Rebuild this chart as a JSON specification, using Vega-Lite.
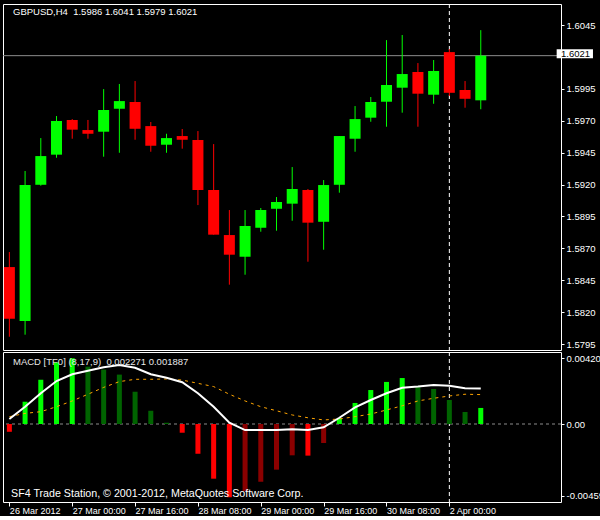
{
  "$schema": "https://vega.github.io/schema/vega-lite/v6.json",
  "background": "#000000",
  "padding": {"left": 2, "top": 3, "right": 0, "bottom": 0},
  "spacing": 0,
  "config": {
    "view": {"stroke": "#FFFFFF", "strokeWidth": 1, "fill": "#000000"},
    "axis": {"grid": false, "domain": false, "labelColor": "#FFFFFF", "tickColor": "#FFFFFF", "labelFont": "Liberation Sans", "labelFontSize": 9.5}
  },
  "datasets": {
    "ohlc": [
      {"i": 0, "o": 1.58553, "h": 1.58671, "l": 1.58007, "c": 1.58148},
      {"i": 1, "o": 1.58130, "h": 1.59306, "l": 1.58023, "c": 1.59196},
      {"i": 2, "o": 1.59198, "h": 1.59564, "l": 1.59191, "c": 1.59423},
      {"i": 3, "o": 1.59434, "h": 1.59737, "l": 1.59410, "c": 1.59698},
      {"i": 4, "o": 1.59706, "h": 1.59713, "l": 1.59559, "c": 1.59630},
      {"i": 5, "o": 1.59627, "h": 1.59706, "l": 1.59559, "c": 1.59598},
      {"i": 6, "o": 1.59614, "h": 1.59948, "l": 1.59418, "c": 1.59784},
      {"i": 7, "o": 1.59794, "h": 1.59988, "l": 1.59449, "c": 1.59854},
      {"i": 8, "o": 1.59847, "h": 1.60011, "l": 1.59551, "c": 1.59637},
      {"i": 9, "o": 1.59658, "h": 1.59690, "l": 1.59457, "c": 1.59504},
      {"i": 10, "o": 1.59512, "h": 1.59598, "l": 1.59449, "c": 1.59564},
      {"i": 11, "o": 1.59580, "h": 1.59635, "l": 1.59481, "c": 1.59551},
      {"i": 12, "o": 1.59549, "h": 1.59619, "l": 1.59039, "c": 1.59157},
      {"i": 13, "o": 1.59157, "h": 1.59517, "l": 1.58807, "c": 1.58807},
      {"i": 14, "o": 1.58804, "h": 1.59000, "l": 1.58415, "c": 1.58650},
      {"i": 15, "o": 1.58634, "h": 1.59000, "l": 1.58493, "c": 1.58875},
      {"i": 16, "o": 1.58861, "h": 1.59016, "l": 1.58830, "c": 1.59000},
      {"i": 17, "o": 1.59010, "h": 1.59102, "l": 1.58838, "c": 1.59063},
      {"i": 18, "o": 1.59050, "h": 1.59337, "l": 1.58916, "c": 1.59165},
      {"i": 19, "o": 1.59157, "h": 1.59165, "l": 1.58595, "c": 1.58901},
      {"i": 20, "o": 1.58908, "h": 1.59235, "l": 1.58689, "c": 1.59196},
      {"i": 21, "o": 1.59198, "h": 1.59580, "l": 1.59136, "c": 1.59580},
      {"i": 22, "o": 1.59559, "h": 1.59815, "l": 1.59457, "c": 1.59713},
      {"i": 23, "o": 1.59724, "h": 1.59886, "l": 1.59692, "c": 1.59847},
      {"i": 24, "o": 1.59849, "h": 1.60332, "l": 1.59653, "c": 1.59980},
      {"i": 25, "o": 1.59959, "h": 1.60372, "l": 1.59763, "c": 1.60066},
      {"i": 26, "o": 1.60082, "h": 1.60152, "l": 1.59653, "c": 1.59912},
      {"i": 27, "o": 1.59904, "h": 1.60176, "l": 1.59833, "c": 1.60090},
      {"i": 28, "o": 1.60238, "h": 1.60262, "l": 1.59894, "c": 1.59919},
      {"i": 29, "o": 1.59941, "h": 1.60011, "l": 1.59802, "c": 1.59872},
      {"i": 30, "o": 1.59860, "h": 1.60410, "l": 1.59790, "c": 1.60210}
    ],
    "macd": [
      {"i": 0, "hist": -0.0005, "macd": 0.00032, "signal": 0.00047, "state": "neg-down"},
      {"i": 1, "hist": 0.00143, "macd": 0.00111, "signal": 0.00068, "state": "pos-up"},
      {"i": 2, "hist": 0.00284, "macd": 0.00197, "signal": 0.00079, "state": "pos-up"},
      {"i": 3, "hist": 0.00396, "macd": 0.00276, "signal": 0.00111, "state": "pos-up"},
      {"i": 4, "hist": 0.00422, "macd": 0.00319, "signal": 0.00148, "state": "pos-up"},
      {"i": 5, "hist": 0.00368, "macd": 0.00342, "signal": 0.00191, "state": "pos-down"},
      {"i": 6, "hist": 0.00349, "macd": 0.00364, "signal": 0.00235, "state": "pos-down"},
      {"i": 7, "hist": 0.00317, "macd": 0.00379, "signal": 0.00272, "state": "pos-down"},
      {"i": 8, "hist": 0.00207, "macd": 0.00361, "signal": 0.00287, "state": "pos-down"},
      {"i": 9, "hist": 0.00085, "macd": 0.00319, "signal": 0.00287, "state": "pos-down"},
      {"i": 10, "hist": 0.00008, "macd": 0.00297, "signal": 0.00289, "state": "pos-down"},
      {"i": 11, "hist": -0.00056, "macd": 0.00268, "signal": 0.00282, "state": "neg-down"},
      {"i": 12, "hist": -0.00191, "macd": 0.00197, "signal": 0.00261, "state": "neg-down"},
      {"i": 13, "hist": -0.00351, "macd": 0.00111, "signal": 0.0024, "state": "neg-down"},
      {"i": 14, "hist": -0.0047, "macd": 0.00008, "signal": 0.00191, "state": "neg-down"},
      {"i": 15, "hist": -0.0043, "macd": -0.00039, "signal": 0.00148, "state": "neg-up"},
      {"i": 16, "hist": -0.0037, "macd": -0.00039, "signal": 0.00111, "state": "neg-up"},
      {"i": 17, "hist": -0.00293, "macd": -0.00039, "signal": 0.00085, "state": "neg-up"},
      {"i": 18, "hist": -0.00201, "macd": -0.00034, "signal": 0.00058, "state": "neg-up"},
      {"i": 19, "hist": -0.00203, "macd": -0.00039, "signal": 0.0004, "state": "neg-down"},
      {"i": 20, "hist": -0.00122, "macd": -0.00021, "signal": 0.00026, "state": "neg-up"},
      {"i": 21, "hist": 0.00037, "macd": 0.0004, "signal": 0.00032, "state": "pos-up"},
      {"i": 22, "hist": 0.00135, "macd": 0.00107, "signal": 0.00047, "state": "pos-up"},
      {"i": 23, "hist": 0.00218, "macd": 0.00154, "signal": 0.00064, "state": "pos-up"},
      {"i": 24, "hist": 0.0027, "macd": 0.00197, "signal": 0.0009, "state": "pos-up"},
      {"i": 25, "hist": 0.00295, "macd": 0.00233, "signal": 0.00117, "state": "pos-up"},
      {"i": 26, "hist": 0.00237, "macd": 0.0024, "signal": 0.00148, "state": "pos-down"},
      {"i": 27, "hist": 0.00225, "macd": 0.0025, "signal": 0.00165, "state": "pos-down"},
      {"i": 28, "hist": 0.00154, "macd": 0.00246, "signal": 0.0018, "state": "pos-down"},
      {"i": 29, "hist": 0.00077, "macd": 0.00229, "signal": 0.00191, "state": "pos-down"},
      {"i": 30, "hist": 0.00103, "macd": 0.002271, "signal": 0.001887, "state": "pos-up"}
    ]
  },
  "vconcat": [
    {
      "width": 558,
      "height": 346,
      "layer": [
        {
          "data": {"values": [{"i": 28}]},
          "mark": {"type": "rule", "color": "#FFFFFF", "strokeDash": [4, 3], "strokeWidth": 1},
          "encoding": {
            "x": {"field": "i", "type": "quantitative", "scale": {"domain": [-0.0875, 34.7875], "nice": false, "zero": false}, "axis": null}
          }
        },
        {
          "data": {"values": [{"last": 1.6021}]},
          "mark": {"type": "rule", "color": "#8C8C8C", "strokeWidth": 1},
          "encoding": {
            "y": {"field": "last", "type": "quantitative", "scale": {"domain": [1.57903, 1.60615], "nice": false, "zero": false},
              "axis": {"orient": "right", "title": null, "values": [1.6045, 1.5995, 1.597, 1.5945, 1.592, 1.5895, 1.587, 1.5845, 1.582, 1.5795], "format": ".4f", "tickSize": 3, "labelPadding": 2}}
          }
        },
        {
          "data": {"name": "ohlc"},
          "mark": {"type": "rule", "strokeWidth": 1, "clip": true},
          "encoding": {
            "x": {"field": "i", "type": "quantitative", "scale": {"domain": [-0.0875, 34.7875], "nice": false, "zero": false}, "axis": null},
            "y": {"field": "l", "type": "quantitative", "scale": {"domain": [1.57903, 1.60615], "nice": false, "zero": false},
              "axis": {"orient": "right", "title": null, "values": [1.6045, 1.5995, 1.597, 1.5945, 1.592, 1.5895, 1.587, 1.5845, 1.582, 1.5795], "format": ".4f", "tickSize": 3, "labelPadding": 2}},
            "y2": {"field": "h"},
            "color": {"condition": {"test": "datum.c >= datum.o", "value": "#00FF00"}, "value": "#FF0000"}
          }
        },
        {
          "data": {"name": "ohlc"},
          "mark": {"type": "bar", "size": 11, "clip": true},
          "encoding": {
            "x": {"field": "i", "type": "quantitative", "scale": {"domain": [-0.0875, 34.7875], "nice": false, "zero": false}, "axis": null},
            "y": {"field": "o", "type": "quantitative", "scale": {"domain": [1.57903, 1.60615], "nice": false, "zero": false},
              "axis": {"orient": "right", "title": null, "values": [1.6045, 1.5995, 1.597, 1.5945, 1.592, 1.5895, 1.587, 1.5845, 1.582, 1.5795], "format": ".4f", "tickSize": 3, "labelPadding": 2}},
            "y2": {"field": "c"},
            "color": {"condition": {"test": "datum.c >= datum.o", "value": "#00FF00"}, "value": "#FF0000"}
          }
        },
        {
          "data": {"values": [{"top": 1.6026, "bottom": 1.6019}]},
          "mark": {"type": "rect", "color": "#FFFFFF"},
          "encoding": {
            "x": {"datum": 34.83, "type": "quantitative", "scale": {"domain": [-0.0875, 34.7875], "nice": false, "zero": false}, "axis": null},
            "x2": {"datum": 37.14},
            "y": {"field": "top", "type": "quantitative", "scale": {"domain": [1.57903, 1.60615], "nice": false, "zero": false},
              "axis": {"orient": "right", "title": null, "values": [1.6045, 1.5995, 1.597, 1.5945, 1.592, 1.5895, 1.587, 1.5845, 1.582, 1.5795], "format": ".4f", "tickSize": 3, "labelPadding": 2}},
            "y2": {"field": "bottom"}
          }
        },
        {
          "data": {"values": [{"p": 1.60225, "t": "1.6021"}]},
          "mark": {"type": "text", "color": "#000000", "font": "Liberation Sans", "fontSize": 9.5, "align": "left", "baseline": "middle", "dx": 5},
          "encoding": {
            "x": {"datum": 34.7875, "type": "quantitative", "scale": {"domain": [-0.0875, 34.7875], "nice": false, "zero": false}, "axis": null},
            "y": {"field": "p", "type": "quantitative", "scale": {"domain": [1.57903, 1.60615], "nice": false, "zero": false},
              "axis": {"orient": "right", "title": null, "values": [1.6045, 1.5995, 1.597, 1.5945, 1.592, 1.5895, 1.587, 1.5845, 1.582, 1.5795], "format": ".4f", "tickSize": 3, "labelPadding": 2}},
            "text": {"field": "t"}
          }
        },
        {
          "data": {"values": [{"t": "GBPUSD,H4\u00a0 1.5986 1.6041 1.5979 1.6021"}]},
          "mark": {"type": "text", "color": "#FFFFFF", "font": "Liberation Sans", "fontSize": 9.5, "align": "left", "baseline": "middle", "dx": 5, "dy": 7.5},
          "encoding": {
            "x": {"datum": -0.0875, "type": "quantitative", "scale": {"domain": [-0.0875, 34.7875], "nice": false, "zero": false}, "axis": null},
            "y": {"datum": 1.60615, "type": "quantitative", "scale": {"domain": [1.57903, 1.60615], "nice": false, "zero": false},
              "axis": {"orient": "right", "title": null, "values": [1.6045, 1.5995, 1.597, 1.5945, 1.592, 1.5895, 1.587, 1.5845, 1.582, 1.5795], "format": ".4f", "tickSize": 3, "labelPadding": 2}},
            "text": {"field": "t"}
          }
        }
      ]
    },
    {
      "width": 558,
      "height": 150,
      "layer": [
        {
          "data": {"values": [{"i": 28}]},
          "mark": {"type": "rule", "color": "#FFFFFF", "strokeDash": [4, 3], "strokeWidth": 1},
          "encoding": {
            "x": {"field": "i", "type": "quantitative", "scale": {"domain": [-0.0875, 34.7875], "nice": false, "zero": false},
              "axis": {"orient": "bottom", "title": null, "values": [0, 4, 8, 12, 16, 20, 24, 28], "labelExpr": "['26 Mar 2012','27 Mar 00:00','27 Mar 16:00','28 Mar 08:00','29 Mar 00:00','29 Mar 16:00','30 Mar 08:00','2 Apr 00:00'][round(datum.value/4)]", "labelAlign": "left", "labelFlush": false, "labelOverlap": false, "labelBound": false, "tickSize": 4, "labelPadding": 0.5, "labelFontSize": 9}}
          }
        },
        {
          "data": {"values": [{"z": 0}]},
          "mark": {"type": "rule", "color": "#8C8C8C", "strokeDash": [3, 3], "strokeWidth": 1},
          "encoding": {
            "y": {"field": "z", "type": "quantitative", "scale": {"domain": [-0.005006, 0.004621], "nice": false, "zero": false},
              "axis": {"orient": "right", "title": null, "values": [0.004204, 0, -0.00459], "labelExpr": "datum.value == 0 ? '0.00' : (datum.value > 0 ? '0.004204' : '-0.00459')", "tickSize": 3, "labelPadding": 2}}
          }
        },
        {
          "data": {"name": "macd"},
          "mark": {"type": "bar", "size": 5, "clip": true},
          "encoding": {
            "x": {"field": "i", "type": "quantitative", "scale": {"domain": [-0.0875, 34.7875], "nice": false, "zero": false},
              "axis": {"orient": "bottom", "title": null, "values": [0, 4, 8, 12, 16, 20, 24, 28], "labelExpr": "['26 Mar 2012','27 Mar 00:00','27 Mar 16:00','28 Mar 08:00','29 Mar 00:00','29 Mar 16:00','30 Mar 08:00','2 Apr 00:00'][round(datum.value/4)]", "labelAlign": "left", "labelFlush": false, "labelOverlap": false, "labelBound": false, "tickSize": 4, "labelPadding": 0.5, "labelFontSize": 9}},
            "y": {"field": "hist", "type": "quantitative", "scale": {"domain": [-0.005006, 0.004621], "nice": false, "zero": false},
              "axis": {"orient": "right", "title": null, "values": [0.004204, 0, -0.00459], "labelExpr": "datum.value == 0 ? '0.00' : (datum.value > 0 ? '0.004204' : '-0.00459')", "tickSize": 3, "labelPadding": 2}},
            "y2": {"datum": 0},
            "color": {"field": "state", "type": "nominal", "scale": {"domain": ["pos-up", "pos-down", "neg-down", "neg-up"], "range": ["#00FF00", "#006400", "#FF0000", "#8B0000"]}, "legend": null}
          }
        },
        {
          "data": {"name": "macd"},
          "mark": {"type": "line", "color": "#FFA500", "strokeWidth": 1, "strokeDash": [3, 4], "clip": true},
          "encoding": {
            "x": {"field": "i", "type": "quantitative", "scale": {"domain": [-0.0875, 34.7875], "nice": false, "zero": false},
              "axis": {"orient": "bottom", "title": null, "values": [0, 4, 8, 12, 16, 20, 24, 28], "labelExpr": "['26 Mar 2012','27 Mar 00:00','27 Mar 16:00','28 Mar 08:00','29 Mar 00:00','29 Mar 16:00','30 Mar 08:00','2 Apr 00:00'][round(datum.value/4)]", "labelAlign": "left", "labelFlush": false, "labelOverlap": false, "labelBound": false, "tickSize": 4, "labelPadding": 0.5, "labelFontSize": 9}},
            "y": {"field": "signal", "type": "quantitative", "scale": {"domain": [-0.005006, 0.004621], "nice": false, "zero": false},
              "axis": {"orient": "right", "title": null, "values": [0.004204, 0, -0.00459], "labelExpr": "datum.value == 0 ? '0.00' : (datum.value > 0 ? '0.004204' : '-0.00459')", "tickSize": 3, "labelPadding": 2}}
          }
        },
        {
          "data": {"name": "macd"},
          "mark": {"type": "line", "color": "#FFFFFF", "strokeWidth": 2, "clip": true},
          "encoding": {
            "x": {"field": "i", "type": "quantitative", "scale": {"domain": [-0.0875, 34.7875], "nice": false, "zero": false},
              "axis": {"orient": "bottom", "title": null, "values": [0, 4, 8, 12, 16, 20, 24, 28], "labelExpr": "['26 Mar 2012','27 Mar 00:00','27 Mar 16:00','28 Mar 08:00','29 Mar 00:00','29 Mar 16:00','30 Mar 08:00','2 Apr 00:00'][round(datum.value/4)]", "labelAlign": "left", "labelFlush": false, "labelOverlap": false, "labelBound": false, "tickSize": 4, "labelPadding": 0.5, "labelFontSize": 9}},
            "y": {"field": "macd", "type": "quantitative", "scale": {"domain": [-0.005006, 0.004621], "nice": false, "zero": false},
              "axis": {"orient": "right", "title": null, "values": [0.004204, 0, -0.00459], "labelExpr": "datum.value == 0 ? '0.00' : (datum.value > 0 ? '0.004204' : '-0.00459')", "tickSize": 3, "labelPadding": 2}}
          }
        },
        {
          "data": {"values": [{"t": "MACD [TF0] (8,17,9)\u00a0 0.002271 0.001887"}]},
          "mark": {"type": "text", "color": "#E8E8E8", "font": "Liberation Sans", "fontSize": 9.5, "align": "left", "baseline": "middle", "dx": 5, "dy": 10},
          "encoding": {
            "x": {"datum": -0.0875, "type": "quantitative", "scale": {"domain": [-0.0875, 34.7875], "nice": false, "zero": false},
              "axis": {"orient": "bottom", "title": null, "values": [0, 4, 8, 12, 16, 20, 24, 28], "labelExpr": "['26 Mar 2012','27 Mar 00:00','27 Mar 16:00','28 Mar 08:00','29 Mar 00:00','29 Mar 16:00','30 Mar 08:00','2 Apr 00:00'][round(datum.value/4)]", "labelAlign": "left", "labelFlush": false, "labelOverlap": false, "labelBound": false, "tickSize": 4, "labelPadding": 0.5, "labelFontSize": 9}},
            "y": {"datum": 0.004621, "type": "quantitative", "scale": {"domain": [-0.005006, 0.004621], "nice": false, "zero": false},
              "axis": {"orient": "right", "title": null, "values": [0.004204, 0, -0.00459], "labelExpr": "datum.value == 0 ? '0.00' : (datum.value > 0 ? '0.004204' : '-0.00459')", "tickSize": 3, "labelPadding": 2}},
            "text": {"field": "t"}
          }
        },
        {
          "data": {"values": [{"t": "SF4 Trade Station, © 2001-2012, MetaQuotes Software Corp."}]},
          "mark": {"type": "text", "color": "#FFFFFF", "font": "Liberation Sans", "fontSize": 10.7, "align": "left", "baseline": "middle", "dx": 3, "dy": -8},
          "encoding": {
            "x": {"datum": -0.0875, "type": "quantitative", "scale": {"domain": [-0.0875, 34.7875], "nice": false, "zero": false},
              "axis": {"orient": "bottom", "title": null, "values": [0, 4, 8, 12, 16, 20, 24, 28], "labelExpr": "['26 Mar 2012','27 Mar 00:00','27 Mar 16:00','28 Mar 08:00','29 Mar 00:00','29 Mar 16:00','30 Mar 08:00','2 Apr 00:00'][round(datum.value/4)]", "labelAlign": "left", "labelFlush": false, "labelOverlap": false, "labelBound": false, "tickSize": 4, "labelPadding": 0.5, "labelFontSize": 9}},
            "y": {"datum": -0.005006, "type": "quantitative", "scale": {"domain": [-0.005006, 0.004621], "nice": false, "zero": false},
              "axis": {"orient": "right", "title": null, "values": [0.004204, 0, -0.00459], "labelExpr": "datum.value == 0 ? '0.00' : (datum.value > 0 ? '0.004204' : '-0.00459')", "tickSize": 3, "labelPadding": 2}},
            "text": {"field": "t"}
          }
        }
      ]
    }
  ]
}
